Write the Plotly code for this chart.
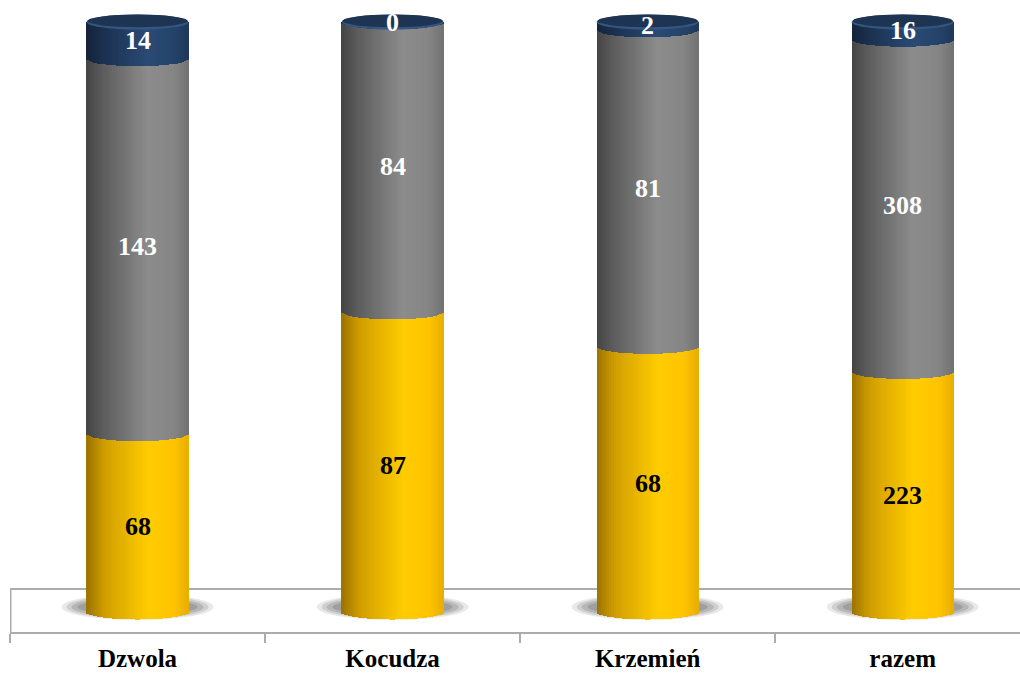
import numpy as np
import plotly.graph_objects as go

# ---------------- data ----------------
categories = ["Dzwola", "Kocudza", "Krzemień", "razem"]
vals_yellow = [68, 87, 68, 223]
vals_grey = [143, 84, 81, 308]
vals_navy = [14, 0, 2, 16]

series_vals = [vals_yellow, vals_grey, vals_navy]
label_colors = ["#000000", "#ffffff", "#ffffff"]
gradients = [
    [(0.0, "#9c7300"), (0.18, "#d09e00"), (0.6, "#ffcc00"), (0.85, "#ffc400"), (1.0, "#e8ae00")],
    [(0.0, "#444444"), (0.18, "#5e5e5e"), (0.6, "#8c8c8c"), (0.85, "#858585"), (1.0, "#727272")],
    [(0.0, "#13233b"), (0.18, "#1b3150"), (0.6, "#2a4a74"), (0.85, "#25436a"), (1.0, "#1e3859")],
]

totals = [sum(v) for v in zip(*series_vals)]
pct = np.array([[100.0 * v / t for v, t in zip(s, totals)] for s in series_vals])
tops = np.cumsum(pct, axis=0)
bases = tops - pct

# ---------------- geometry (style) ----------------
W, H = 1020, 673
ML, MR, MT, MB = 10, 0, 0, 41
plot_h = H - MT - MB
plot_w = W - ML - MR
y_range = [-3.39, 103.73]
x_range = [-0.5, 3.46]
px_per_y = plot_h / (y_range[1] - y_range[0])
px_per_x = plot_w / (x_range[1] - x_range[0])
bar_w = 0.4
ell_h = 7.5 / px_per_y          # half-height of ellipses in data units
N = 48                           # strips per cylinder
x_idx = np.arange(len(categories))


def hex2rgb(h):
    return np.array([int(h[i:i + 2], 16) for i in (1, 3, 5)], dtype=float)


def grad_color(stops, t):
    for (t0, c0), (t1, c1) in zip(stops[:-1], stops[1:]):
        if t0 <= t <= t1:
            f = (t - t0) / (t1 - t0) if t1 > t0 else 0
            c = hex2rgb(c0) * (1 - f) + hex2rgb(c1) * f
            return "rgb(%d,%d,%d)" % tuple(np.round(c))
    c = hex2rgb(stops[-1][1])
    return "rgb(%d,%d,%d)" % tuple(c)


fig = go.Figure()

strip_w = bar_w / N
for s in range(len(series_vals)):
    for k in range(N):
        u = -1 + (2 * k + 1) / N            # normalized strip center (-1..1)
        t = (k + 0.5) / N
        drop = ell_h * np.sqrt(max(0.0, 1 - u * u))
        b = bases[s] - drop
        length = tops[s] - b
        fig.add_trace(go.Bar(
            x=x_idx, y=length, base=b,
            width=strip_w * 1.08,
            offset=-bar_w / 2 + k * strip_w - strip_w * 0.04,
            marker=dict(color=grad_color(gradients[s], t), line=dict(width=0)),
            hoverinfo="skip", showlegend=False,
        ))

shapes = []
# floor
floor_back = (7.5 + 15.5) / px_per_y
shapes.append(dict(type="line", xref="x", yref="y", x0=x_range[0], x1=x_range[1] + 0.1,
                   y0=floor_back, y1=floor_back, line=dict(color="#acacac", width=2), layer="below"))
shapes.append(dict(type="line", xref="x", yref="y", x0=x_range[0] + 0.002, x1=x_range[0] + 0.002,
                   y0=y_range[0], y1=floor_back, line=dict(color="#acacac", width=2), layer="below"))
# shadows
for i in x_idx:
    for j, (sw, sh, op) in enumerate([(152, 26, 0.15), (142, 23, 0.2), (132, 20, 0.25), (120, 16, 0.3)]):
        cx, cy = i, 5 / px_per_y
        shapes.append(dict(type="circle", xref="x", yref="y",
                           x0=cx - sw / 2 / px_per_x, x1=cx + sw / 2 / px_per_x,
                           y0=cy - sh / 2 / px_per_y, y1=cy + sh / 2 / px_per_y,
                           fillcolor="#6a6a6a", opacity=op, line=dict(width=0), layer="below"))
# top caps
for i in x_idx:
    top = tops[-1][i]
    shapes.append(dict(type="circle", xref="x", yref="y",
                       x0=i - bar_w / 2, x1=i + bar_w / 2,
                       y0=top - ell_h, y1=top + ell_h,
                       fillcolor="#355680", line=dict(width=0), layer="above"))
    shapes.append(dict(type="circle", xref="x", yref="y",
                       x0=i - bar_w / 2 + 1 / px_per_x, x1=i + bar_w / 2 - 1 / px_per_x,
                       y0=top - ell_h + 2.2 / px_per_y, y1=top + ell_h,
                       fillcolor="#1e3453", line=dict(width=0), layer="above"))

annotations = []
for s in range(len(series_vals)):
    for i in x_idx:
        mid = (bases[s][i] + tops[s][i]) / 2
        annotations.append(dict(
            x=i, y=mid, xref="x", yref="y", text=str(series_vals[s][i]), showarrow=False,
            yshift=-4 if s == 0 else 0,
            font=dict(family="Liberation Serif", size=26, color=label_colors[s], weight="bold"),
        ))

fig.update_layout(
    width=W, height=H,
    margin=dict(l=ML, r=MR, t=MT, b=MB, autoexpand=False),
    paper_bgcolor="white", plot_bgcolor="rgba(0,0,0,0)",
    barmode="overlay", bargap=0,
    showlegend=False,
    shapes=shapes, annotations=annotations,
    xaxis=dict(
        range=x_range, tickvals=list(x_idx), ticktext=categories,
        showgrid=False, zeroline=False, showline=True, linecolor="#acacac", linewidth=2,
        ticks="", ticklabelstandoff=3, automargin=False,
        tickfont=dict(family="Liberation Serif", size=25, color="#000000", weight="bold"),
        minor=dict(tickvals=[i - 0.5 for i in x_idx], ticks="outside", ticklen=9,
                   tickcolor="#acacac", tickwidth=2, showgrid=False),
        fixedrange=True,
    ),
    yaxis=dict(range=y_range, visible=False, showgrid=False, zeroline=False, fixedrange=True,
               automargin=False),
)

fig.write_html("out.html", config={"displayModeBar": False},
               post_script="document.body.style.margin='0';")
